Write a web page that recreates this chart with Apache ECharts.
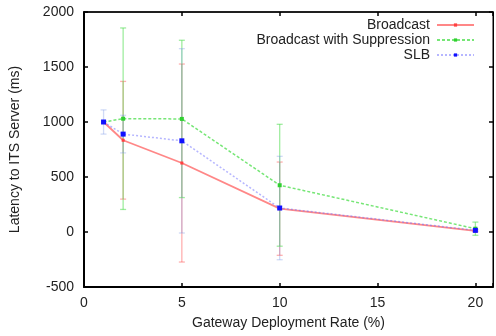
<!DOCTYPE html>
<html><head><meta charset="utf-8">
<script src="https://cdn.jsdelivr.net/npm/echarts@6/dist/echarts.min.js"></script>
<style>html,body{margin:0;padding:0;background:#fff}#c{width:496px;height:336px}</style>
</head><body><div id="c"></div>
<script>
const xs = [1, 2, 5, 10, 20];
const broadcast = [1000, 834, 627, 212, 10];
const broadcastErr = [0, 535, 900, 424, 8];
const suppression = [1000, 1030, 1028, 425, 30];
const suppressionErr = [0, 825, 715, 554, 60];
const slb = [1000, 890, 829, 218, 15];
const slbErr = [110, 171, 838, 470, 10];
const seriesNames = ['Broadcast', 'Broadcast with Suppression', 'SLB'];
const xTicks = [0, 5, 10, 15, 20];
const yTicks = [-500, 0, 500, 1000, 1500, 2000];

const lineCol = ['rgba(255,70,70,0.65)', 'rgba(60,220,60,0.7)', 'rgba(110,110,255,0.5)'];
const barCol = ['rgba(255,80,80,0.45)', 'rgba(80,220,80,0.55)', 'rgba(120,150,230,0.35)'];
const ptCol = ['#ff4040', '#30d030', '#1010ff'];

function pairs(v){ return xs.map((x,i)=>[x, v[i]]); }
function errData(v, e){ return xs.map((x,i)=>[x, v[i]-e[i], v[i]+e[i]]); }
function errSeries(v, e, idx){
  return {
    type: 'custom', silent: true, z: 1,
    data: errData(v, e),
    renderItem: function(params, api){
      const lo = api.coord([api.value(0), api.value(1)]);
      const hi = api.coord([api.value(0), api.value(2)]);
      if (Math.abs(hi[1]-lo[1]) < 1) return null;
      const w = 3;
      const st = {stroke: barCol[idx], lineWidth: 1.3};
      return {type: 'group', children: [
        {type:'line', shape:{x1:lo[0],y1:lo[1],x2:hi[0],y2:hi[1]}, style: st},
        {type:'line', shape:{x1:lo[0]-w,y1:lo[1],x2:lo[0]+w,y2:lo[1]}, style: st},
        {type:'line', shape:{x1:hi[0]-w,y1:hi[1],x2:hi[0]+w,y2:hi[1]}, style: st}
      ]};
    }
  };
}
function lineSeries(name, v, idx, dash, size){
  return {
    name: name, type: 'line', data: pairs(v), z: 3,
    symbol: 'rect', symbolSize: size, showSymbol: true,
    lineStyle: {color: lineCol[idx], width: idx===0?1.8:1.5, type: dash},
    itemStyle: {color: ptCol[idx]},
    emphasis: {disabled: true}, animation: false
  };
}
const font = 'Liberation Sans, Arial, Helvetica, sans-serif';
const chart = echarts.init(document.getElementById('c'));
chart.setOption({
  animation: false,
  grid: {left: 83, right: 2, top: 12, bottom: 49, show: true, borderColor: '#000', borderWidth: 1},
  legend: {
    orient: 'vertical', right: 16, top: 13, align: 'right',
    itemWidth: 37, itemHeight: 4, itemGap: 1,
    textStyle: {fontFamily: font, fontSize: 14, color: '#222', padding: [0, 2, 0, 0]},
    data: seriesNames
  },
  xAxis: [
    {type: 'value', min: 0, max: 20.9, interval: 5,
      name: 'Gateway Deployment Rate (%)', nameLocation: 'middle', nameGap: 29,
      nameTextStyle: {fontFamily: font, fontSize: 14, color: '#222'},
      axisLine: {show: true, onZero: false, lineStyle: {color: '#000', width: 2}},
      axisTick: {show: true, inside: true, length: 4, lineStyle: {color: '#000', width: 1.5}},
      splitLine: {show: false},
      axisLabel: {fontFamily: font, fontSize: 14, color: '#222', margin: 9,
        formatter: v => xTicks.includes(v) ? String(v) : ''}},
    {type: 'value', position: 'top', min: 0, max: 20.9, interval: 5,
      axisLine: {show: true, onZero: false, lineStyle: {color: '#000', width: 1.5}},
      axisTick: {show: true, inside: true, length: 4, lineStyle: {color: '#000', width: 1.5}},
      axisLabel: {show: false}, splitLine: {show: false}}
  ],
  yAxis: [
    {type: 'value', min: -500, max: 2000, interval: 500,
      name: 'Latency to ITS Server (ms)', nameLocation: 'middle', nameGap: 62,
      nameTextStyle: {fontFamily: font, fontSize: 14, color: '#222'},
      axisLine: {show: true, onZero: false, lineStyle: {color: '#000', width: 2}},
      axisTick: {show: true, inside: true, length: 4, lineStyle: {color: '#000', width: 1.5}},
      splitLine: {show: false},
      axisLabel: {fontFamily: font, fontSize: 14, color: '#222', margin: 10,
        formatter: v => yTicks.includes(v) ? String(v) : ''}},
    {type: 'value', position: 'right', min: -500, max: 2000, interval: 500,
      axisLine: {show: true, onZero: false, lineStyle: {color: '#000', width: 1}},
      axisTick: {show: true, inside: true, length: 4, lineStyle: {color: '#000', width: 1.5}},
      axisLabel: {show: false}, splitLine: {show: false}}
  ],
  series: [
    errSeries(broadcast, broadcastErr, 0),
    errSeries(suppression, suppressionErr, 1),
    errSeries(slb, slbErr, 2),
    lineSeries(seriesNames[0], broadcast, 0, 'solid', 3),
    lineSeries(seriesNames[1], suppression, 1, [3, 2], 4),
    lineSeries(seriesNames[2], slb, 2, [2, 2], 5)
  ]
});
</script></body></html>
